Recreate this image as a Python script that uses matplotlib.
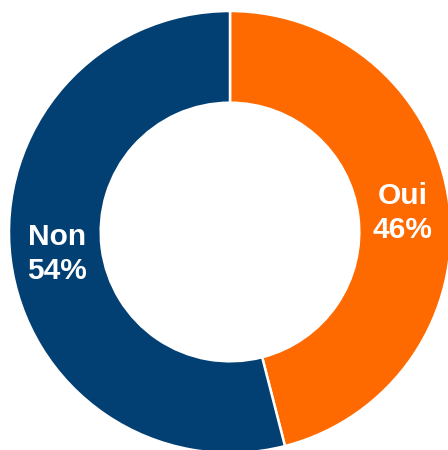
import matplotlib
matplotlib.use("Agg")
import matplotlib.pyplot as plt

labels = ["Oui", "Non"]
values = [46, 54]
colors = ["#FF6A00", "#023F73"]

fig = plt.figure(figsize=(4.48, 4.5), dpi=100)
ax = fig.add_axes([0, 0, 1, 1])
wedges, _ = ax.pie(values, colors=colors, startangle=90, counterclock=False,
                   radius=1.0, center=(0, 0),
                   wedgeprops=dict(width=0.415, edgecolor="white", linewidth=1.8))
ax.set_xlim(-1.0407, 0.9864)
ax.set_ylim(-0.9864, 1.0498)
ax.set_aspect("auto")
ax.axis("off")

pos = {"Oui": (0.78, 0.085), "Non": (-0.783, -0.10)}
for lab, v in zip(labels, values):
    x, y = pos[lab]
    ax.text(x, y, f"{lab}\n{v}%", color="white", fontsize=21.5, fontweight="bold",
            family="Liberation Sans", ha="center", va="center", linespacing=1.25)

fig.savefig("out.png", dpi=100)
